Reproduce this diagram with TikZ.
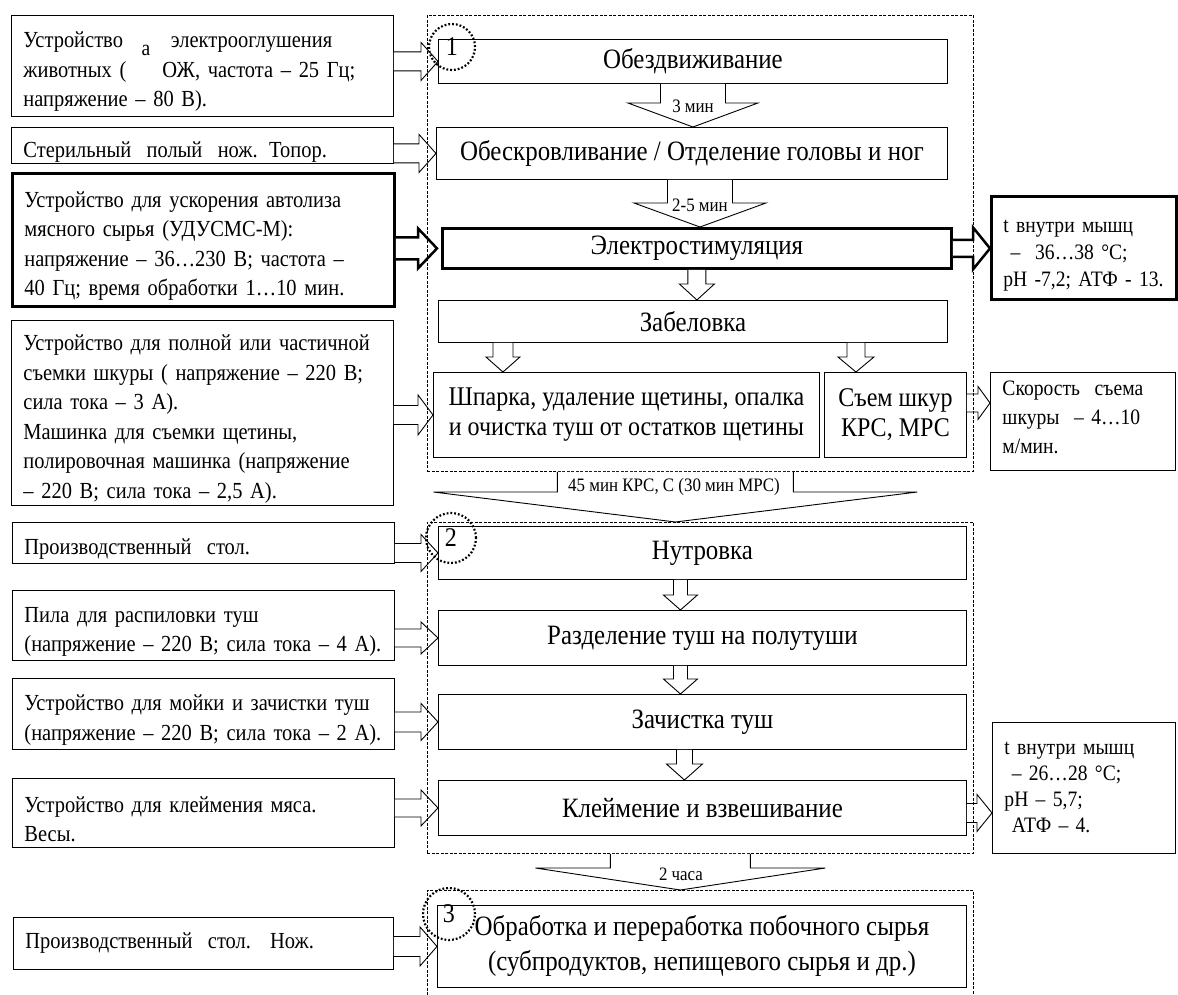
\documentclass[tikz,border=0pt]{standalone}
\usepackage{fontspec}
\setmainfont[FakeStretch=0.89]{Liberation Serif}
\usepackage{tikz}
\usetikzlibrary{calc}
\tikzstyle{stepbox} = [
    draw, line width=0.9pt, fill=white,
    inner sep=0pt, anchor=north west, align=center,
    font=\fontsize{28}{34}\selectfont
]
\tikzstyle{thickbox} = [stepbox, line width=2.8pt]
\tikzstyle{toolbox} = [
    draw, line width=0.9pt, fill=white,
    inner xsep=12pt, inner ysep=0pt, anchor=north west, align=left,
    font=\fontsize{23}{29.5}\selectfont
]
\tikzstyle{lowtext} = [execute at begin node={\rule{0pt}{28pt}}]
\tikzstyle{resultbox} = [toolbox, inner xsep=12pt, font=\fontsize{22}{27}\selectfont]
\tikzstyle{stage} = [draw, line width=0.8pt, dash pattern=on 3pt off 1.5pt, anchor=north west, inner sep=0pt]
\tikzstyle{stagering} = [draw, circle, line width=2.2pt, dash pattern=on 1.8pt off 2pt, inner sep=0pt, font=\fontsize{27}{29}\selectfont]
\tikzstyle{blockarrow} = [draw, line width=0.9pt, fill=white, line join=miter]
\tikzstyle{timelabel} = [inner sep=0pt, font=\fontsize{19}{21}\selectfont]
% horizontal block arrow: [style]{from}{to}{shaft half}{head half}{head length}
\newcommand{\sidearrow}[6][]{%
    \path (#2) coordinate (arrS);
    \path (#3) coordinate (arrE);
    \draw[blockarrow,#1] ($(arrS)+(0,-#4)$) -- ($(arrE)+(-#6,-#4)$) -- ($(arrE)+(-#6,-#5)$) -- (arrE)
        -- ($(arrE)+(-#6,#5)$) -- ($(arrE)+(-#6,#4)$) -- ($(arrS)+(0,#4)$);}
% downward block arrow: [style]{from}{target}{shaft half}{head half}{head length}
\newcommand{\droparrow}[6][]{%
    \path (#2) coordinate (arrS);
    \path (arrS |- #3) coordinate (arrE);
    \draw[blockarrow,#1] ($(arrS)+(-#4,0)$) -- ($(arrE)+(-#4,-#6)$) -- ($(arrE)+(-#5,-#6)$) -- (arrE)
        -- ($(arrE)+(#5,-#6)$) -- ($(arrE)+(#4,-#6)$) -- ($(arrS)+(#4,0)$);}

\begin{document}
\begin{tikzpicture}[x=1pt, y=-1pt]
    \useasboundingbox (0,0) rectangle (1178,995);
    % Stage 1 operations
    \node[stepbox, minimum width=509pt, minimum height=44pt] (immob) at (438,39) {Обездвиживание};
    \node[stepbox, minimum width=511pt, minimum height=52pt] (bleed) at (436,127) {Обескровливание / Отделение головы и ног};
    \node[thickbox, minimum width=509pt, minimum height=40pt] (stim) at (441,227) {Электростимуляция};
    \node[stepbox, minimum width=509pt, minimum height=42pt] (whiten) at (438,300) {Забеловка};
    \node[stepbox, minimum width=386pt, minimum height=85pt, font=\fontsize{27}{30}\selectfont] (scald) at (433,372) {Шпарка, удаление щетины, опалка\\и очистка туш от остатков щетины};
    \node[stepbox, minimum width=142pt, minimum height=85pt, font=\fontsize{27}{30}\selectfont] (hide) at (824,372) {Съем шкур\\КРС, МРС};
    % Stage 2 operations
    \node[stepbox, minimum width=528pt, minimum height=53pt] (gut) at (438,526) {Нутровка};
    \node[stepbox, minimum width=528pt, minimum height=55pt] (split) at (438,610) {Разделение туш на полутуши};
    \node[stepbox, minimum width=528pt, minimum height=55pt] (trim) at (438,694) {Зачистка туш};
    \node[stepbox, minimum width=528pt, minimum height=55pt] (weigh) at (438,780) {Клеймение и взвешивание};
    % Stage 3 operation
    \node[stepbox, minimum width=529pt, minimum height=82pt, font=\fontsize{28}{35}\selectfont] (byprod) at (437,905) {Обработка и переработка побочного сырья\\(субпродуктов, непищевого сырья и др.)};
    % Equipment
    \node[toolbox, lowtext, text width=358pt, minimum height=101pt] (devstun) at (11,15) {Устройство\hspace{48pt}электрооглушения\\животных (\hspace{36pt}ОЖ, частота~– 25 Гц;\\напряжение~– 80 В).};
    \node[inner sep=0pt, font=\fontsize{22}{24}\selectfont] (stray) at (146,50) {a};
    \node[toolbox, lowtext, text width=358pt, minimum height=36pt] (knife) at (11,127) {Стерильный~ полый~ нож. Топор.};
    \node[toolbox, lowtext, line width=2.8pt, text width=358pt, minimum height=133pt] (accel) at (11,172) {Устройство для ускорения автолиза\\мясного сырья (УДУСМС-М):\\напряжение~– 36…230 В; частота~–\\40 Гц; время обработки 1…10 мин.};
    \node[toolbox, lowtext, text width=358pt, minimum height=185pt] (skin) at (11,320) {Устройство для полной или частичной\\съемки шкуры ( напряжение~– 220 В;\\сила тока – 3 А).\\Машинка для съемки щетины,\\полировочная машинка (напряжение\\– 220 В; сила тока~– 2,5 А).};
    \node[toolbox, lowtext, text width=358pt, minimum height=41pt] (table) at (12,522) {Производственный~ стол.};
    \node[toolbox, lowtext, text width=358pt, minimum height=70pt] (saw) at (12,590) {Пила для распиловки туш\\(напряжение~– 220 В; сила тока – 4 А).};
    \node[toolbox, lowtext, text width=358pt, minimum height=71pt] (wash) at (12,678) {Устройство для мойки и зачистки туш\\(напряжение~– 220 В; сила тока – 2 А).};
    \node[toolbox, lowtext, text width=358pt, minimum height=69pt] (brand) at (12,778) {Устройство для клеймения мяса.\\Весы.};
    \node[toolbox, text width=356pt, minimum height=52pt] (tableknife) at (13,917) {Производственный~ стол.~ Нож.};
    % Parameters
    \node[resultbox, lowtext, line width=2.8pt, text width=161pt, minimum height=103pt] (tempA) at (990,195) {t внутри мышц\\~– \ 36…38 °C;\\pH -7,2; АТФ - 13.};
    \node[resultbox, text width=161pt, minimum height=98pt, font=\fontsize{22}{29}\selectfont] (speed) at (990,372) {Скорость~ съема\\шкуры~ – 4…10\\м/мин.\vspace*{8pt}};
    \node[resultbox, text width=159pt, minimum height=131pt, font=\fontsize{22}{26}\selectfont] (tempB) at (992,722) {t внутри мышц\\~– 26…28 °C;\\pH – 5,7;\\~АТФ – 4.};
    % Arrows inside stages
    \droparrow{immob.south}{bleed.north}{32.5}{65}{24}
    \droparrow{[xshift=8pt]bleed.south}{stim.north}{32.5}{66}{24}
    \droparrow{stim.south}{whiten.north}{9}{17.5}{16}
    \droparrow{[xshift=-190pt]whiten.south}{scald.north}{10}{17}{15}
    \droparrow{[xshift=163pt]whiten.south}{hide.north}{9}{18}{15}
    \droparrow{[xshift=-22pt]gut.south}{split.north}{7}{17}{15}
    \droparrow{[xshift=-22pt]split.south}{trim.north}{7}{17}{15}
    \droparrow{[xshift=-18pt]trim.south}{weigh.north}{8}{18}{16}
    \node[timelabel] (lbl3) at (693,106) {3 мин};
    \node[timelabel] (lbl25) at (700,205) {2-5 мин};
    % Equipment arrows
    \sidearrow{devstun.east |- immob.west}{immob.west}{9.5}{19}{17}
    \sidearrow{knife.east |- bleed.west}{bleed.west}{9.5}{19}{17}
    \sidearrow[line width=2.5pt]{accel.east |- stim.west}{[xshift=-4pt]stim.west}{11}{20}{19}
    \sidearrow{skin.east |- scald.west}{scald.west}{9.5}{20}{15}
    \sidearrow{table.east |- gut.west}{gut.west}{9.5}{18.5}{17}
    \sidearrow{saw.east |- split.west}{split.west}{9}{16}{17}
    \sidearrow{wash.east |- trim.west}{trim.west}{10}{18.5}{17}
    \sidearrow{brand.east |- weigh.west}{weigh.west}{9}{18}{17}
    \sidearrow{tableknife.east |- byprod.west}{byprod.west}{10}{19.5}{17}
    % Parameter arrows
    \sidearrow[line width=2.5pt]{stim.east}{tempA.west |- stim.east}{8.5}{21}{17}
    \sidearrow{[yshift=12pt]hide.east}{speed.west |- arrS}{9}{16.5}{12}
    \sidearrow{[yshift=-5pt]weigh.east}{tempB.west |- arrS}{9.5}{18.5}{15}
    % Stages
    \node[stage, minimum width=546pt, minimum height=456pt] (stage1) at (427,15) {};
    \node[stage, minimum width=546pt, minimum height=331pt] (stage2) at (427,522) {};
    \node[stage, minimum width=546pt, minimum height=120pt] (stage3) at (427,890) {};
    % Arrows between stages
    \droparrow{[xshift=-25pt]stage1.south}{stage2.north}{118}{242}{30}
    \droparrow{[xshift=-20pt]stage2.south}{stage3.north}{70}{145}{22}
    \node[timelabel] (lbl45) at (674,487) {45 мин КРС, С (30 мин МРС)};
    \node[timelabel] (lbl2h) at (681,874) {2 часа};
    % Stage numbers
    \node[stagering, minimum size=46pt] (ring1) at (452,47) {1};
    \node[stagering, minimum size=50pt] (ring2) at (451,538) {2};
    \node[stagering, minimum size=52pt] (ring3) at (449,914) {3};
\end{tikzpicture}
\end{document}
